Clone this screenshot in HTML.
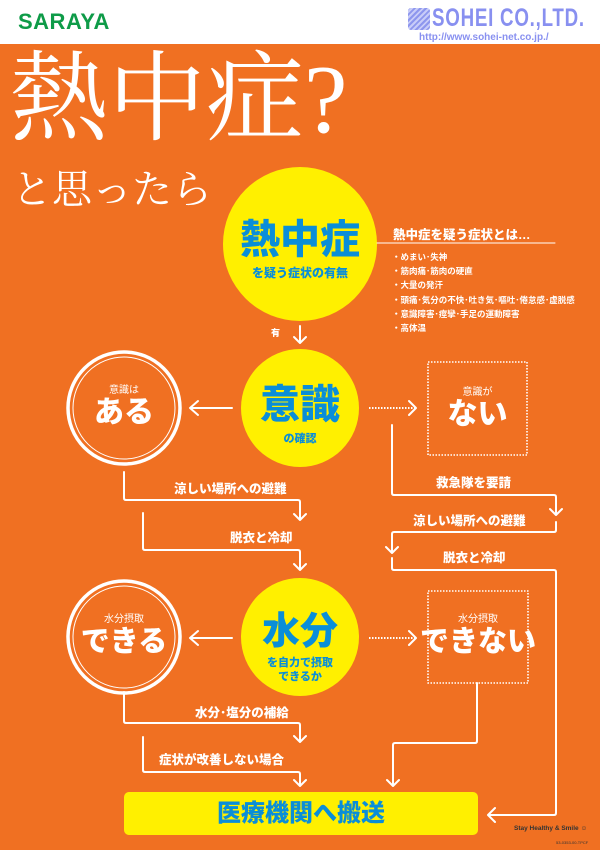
<!DOCTYPE html>
<html><head><meta charset="utf-8"><style>
*{margin:0;padding:0;box-sizing:border-box}
body{width:600px;height:850px;position:relative;overflow:hidden;background:#F07022;font-family:"Liberation Sans","Noto Sans CJK JP",sans-serif;color:#fff}
.a{position:absolute;white-space:nowrap}
.c{text-align:center}
.b{font-weight:900}
.blue{color:#0A8ED8}
</style></head><body>
<div class="a" style="left:0;top:0;width:600px;height:44px;background:#fff"></div>
<div class="a b" style="left:18px;top:9px;font-size:22px;color:#0E9B48;letter-spacing:0.5px">SARAYA</div>
<div class="a" style="left:408px;top:8px;width:22px;height:22px;background:repeating-linear-gradient(135deg,#8d96ee 0 2px,#c8ccf8 2px 4px);border-radius:3px"></div>
<div class="a b" style="left:432px;top:4px;font-size:25px;color:#8890F0;transform:scaleX(0.75);transform-origin:left;letter-spacing:1px">SOHEI CO.,LTD.</div>
<div class="a b" style="left:419px;top:32px;font-size:10px;color:#8890F0">http://www.sohei-net.co.jp./</div>

<div class="a" style="left:10px;top:40px;font-size:98px;line-height:120px;font-family:'Liberation Serif','Noto Serif CJK SC',serif">熱中症?</div>
<div class="a" style="left:12px;top:164px;font-size:40px;line-height:52px;font-family:'Liberation Serif','Noto Serif CJK SC',serif">と思ったら</div>

<svg class="a" style="left:0;top:0" width="600" height="850">
<g fill="none" stroke="#fff" stroke-width="2" stroke-linejoin="round" stroke-linecap="round">
<circle cx="300" cy="244" r="77" fill="#FFF000" stroke="none"/>
<circle cx="300" cy="408" r="59" fill="#FFF000" stroke="none"/>
<circle cx="300" cy="637" r="59" fill="#FFF000" stroke="none"/>
<line x1="377" y1="243" x2="555" y2="243" stroke-width="1"/>
<path d="M300 326V343M294 337L300 343L306 337"/>
<circle cx="124" cy="408" r="56" stroke-width="3.5"/><circle cx="124" cy="408" r="51" stroke-width="1"/>
<circle cx="124" cy="637" r="56" stroke-width="3.5"/><circle cx="124" cy="637" r="51" stroke-width="1"/>
<path d="M232 408H190M198 401L190 408L198 415"/>
<path d="M232 638H190M198 631L190 638L198 645"/>
<path d="M369 408H416" stroke-dasharray="1.5 1.5" stroke-linecap="butt"/><path d="M409 401L416 408L409 415"/>
<path d="M369 638H416" stroke-dasharray="1.5 1.5" stroke-linecap="butt"/><path d="M409 631L416 638L409 645"/>
<rect x="428" y="362" width="99" height="93" stroke-dasharray="1.5 1.5" stroke-linecap="butt" stroke-width="1.6"/>
<rect x="428" y="591" width="100" height="92" stroke-dasharray="1.5 1.5" stroke-linecap="butt" stroke-width="1.6"/>
<path d="M124 472V498Q124 500 126 500H298Q300 500 300 502V520M294 514L300 520L306 514"/>
<path d="M143 513V548Q143 550 145 550H298Q300 550 300 552V570M294 564L300 570L306 564"/>
<path d="M392 425V493Q392 495 394 495H554Q556 495 556 497V515M550 509L556 515L562 509"/>
<path d="M556 522V530Q556 532 554 532H394Q392 532 392 534V553M386 547L392 553L398 547"/>
<path d="M392 558V568Q392 570 394 570H554Q556 570 556 572V813Q556 815 554 815H488M495 808L488 815L495 822"/>
<path d="M124 692V721Q124 723 126 723H298Q300 723 300 725V742M294 736L300 742L306 736"/>
<path d="M143 737V770Q143 772 145 772H298Q300 772 300 774V786M294 780L300 786L306 780"/>
<path d="M477 683V741Q477 743 475 743H395Q393 743 393 745V786M387 780L393 786L399 780"/>
</g>
<rect x="124" y="792" width="354" height="43" rx="5" fill="#FFF000"/>
</svg>

<div class="a b blue c" style="left:200px;top:216px;width:200px;font-size:40px;line-height:48px">熱中症</div>
<div class="a b blue c" style="left:200px;top:264px;width:200px;font-size:12px">を疑う症状の有無</div>
<div class="a b" style="left:393px;top:224px;font-size:12.5px">熱中症を疑う症状とは…</div>
<div class="a" style="left:392px;top:250px;font-size:8.5px;line-height:14.2px;font-weight:bold">・めまい･失神<br>・筋肉痛･筋肉の硬直<br>・大量の発汗<br>・頭痛･気分の不快･吐き気･嘔吐･倦怠感･虚脱感<br>・意識障害･痙攣･手足の運動障害<br>・高体温</div>
<div class="a b" style="left:271px;top:326px;font-size:9px">有</div>

<div class="a b blue c" style="left:200px;top:382px;width:200px;font-size:40px;line-height:46px">意識</div>
<div class="a b blue c" style="left:200px;top:430px;width:200px;font-size:11px">の確認</div>
<div class="a c" style="left:74px;top:381px;width:100px;font-size:10px">意識は</div>
<div class="a b c" style="left:74px;top:395px;width:100px;font-size:30px;line-height:36px">ある</div>
<div class="a c" style="left:428px;top:383px;width:99px;font-size:10px">意識が</div>
<div class="a b c" style="left:428px;top:397px;width:99px;font-size:30px;line-height:36px">ない</div>

<div class="a b" style="left:174px;top:478px;font-size:12.5px">涼しい場所への避難</div>
<div class="a b" style="left:230px;top:527px;font-size:12.5px">脱衣と冷却</div>
<div class="a b" style="left:436px;top:472px;font-size:12.5px">救急隊を要請</div>
<div class="a b" style="left:413px;top:510px;font-size:12.5px">涼しい場所への避難</div>
<div class="a b" style="left:443px;top:547px;font-size:12.5px">脱衣と冷却</div>

<div class="a b blue c" style="left:200px;top:610px;width:200px;font-size:38px;line-height:44px">水分</div>
<div class="a b blue c" style="left:200px;top:656px;width:200px;font-size:11px;line-height:14px">を自力で摂取<br>できるか</div>
<div class="a c" style="left:74px;top:610px;width:100px;font-size:10px">水分摂取</div>
<div class="a b c" style="left:64px;top:624px;width:120px;font-size:29px;line-height:36px">できる</div>
<div class="a c" style="left:428px;top:610px;width:100px;font-size:10px">水分摂取</div>
<div class="a b c" style="left:408px;top:624px;width:140px;font-size:29px;line-height:36px">できない</div>

<div class="a b" style="left:195px;top:702px;font-size:12.5px">水分･塩分の補給</div>
<div class="a b" style="left:159px;top:749px;font-size:12.5px">症状が改善しない場合</div>
<div class="a b blue c" style="left:124px;top:799px;width:354px;font-size:24px;line-height:30px">医療機関へ搬送</div>
<div class="a b" style="left:514px;top:825px;font-size:6.5px;color:#333">Stay Healthy &amp; Smile ☺</div>
<div class="a" style="left:556px;top:840px;font-size:4px;color:#333">53-0353-00-TPCF</div>
</body></html>
